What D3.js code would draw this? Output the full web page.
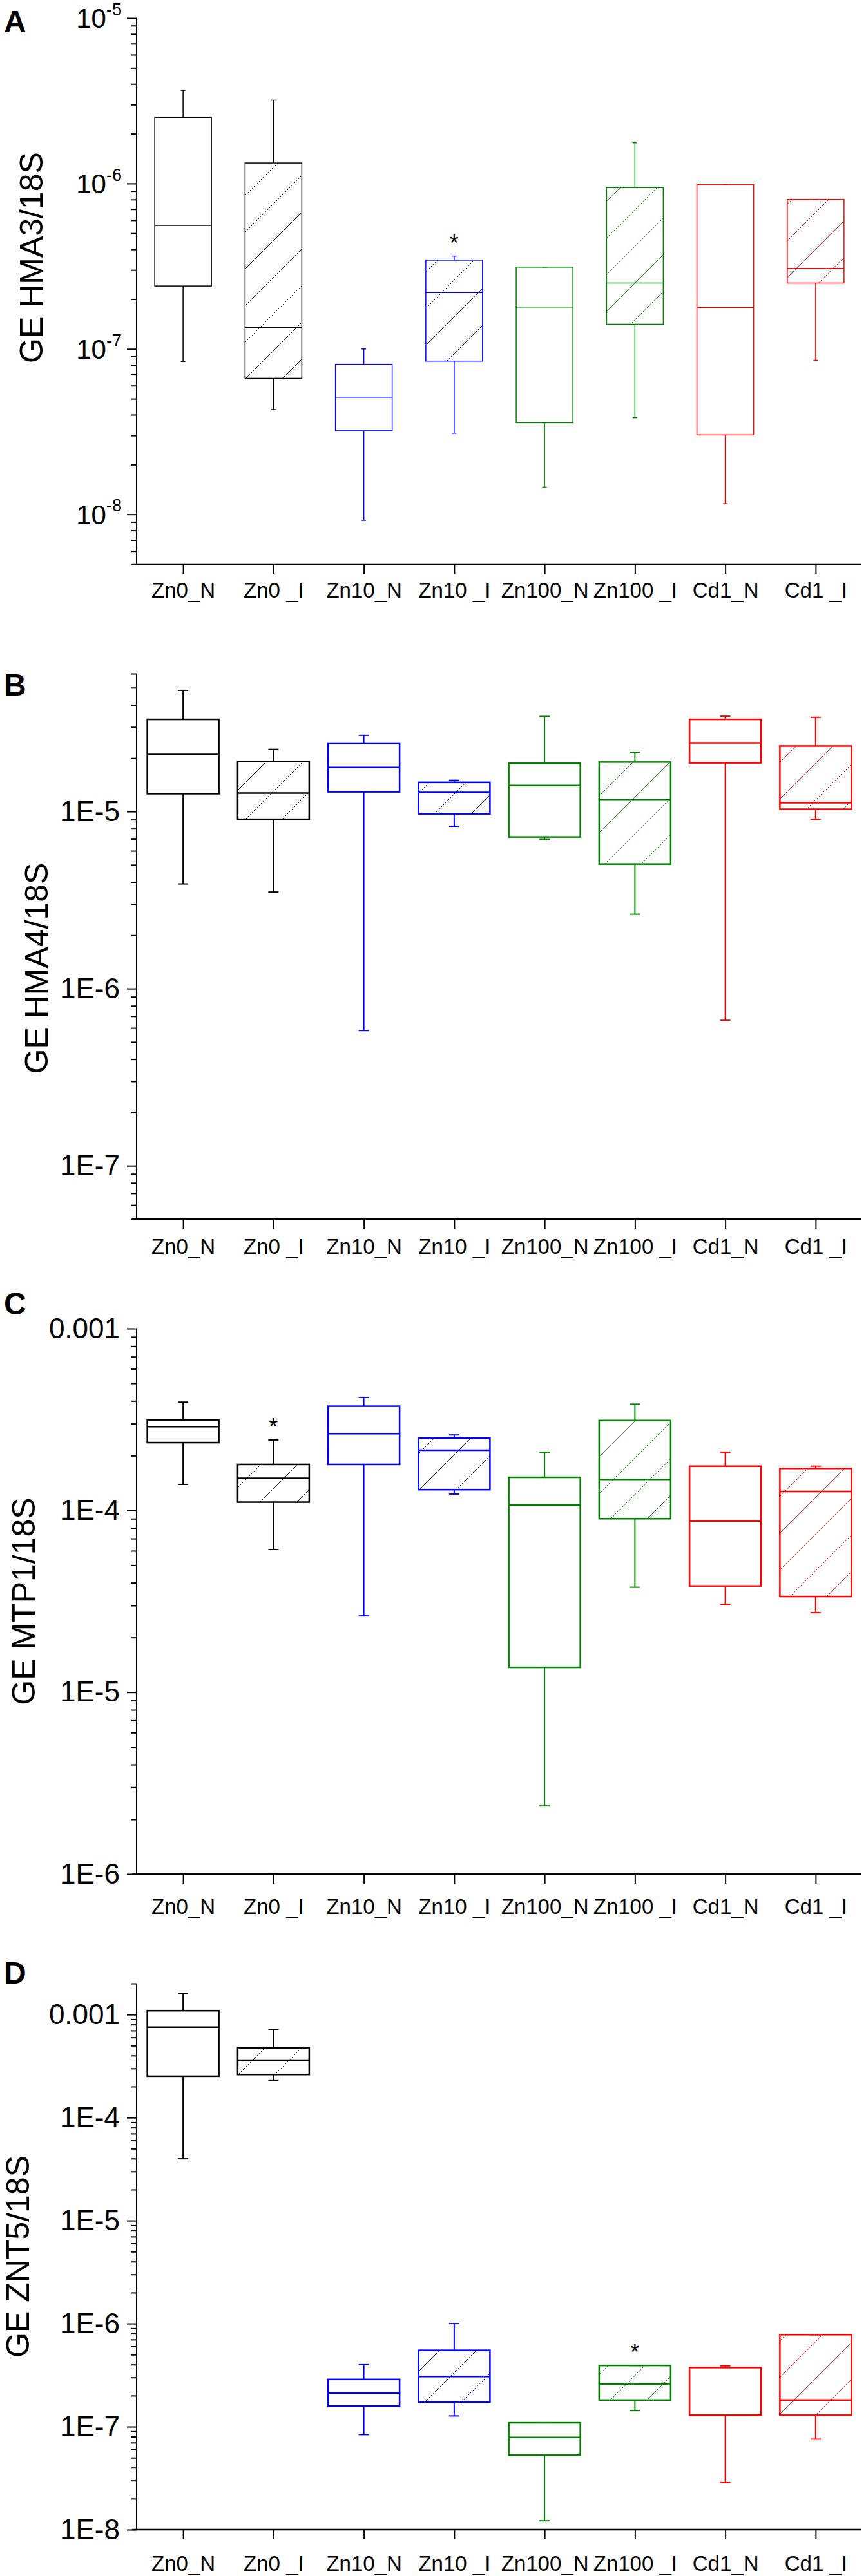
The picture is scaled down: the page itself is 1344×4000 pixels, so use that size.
<!DOCTYPE html>
<html>
<head>
<meta charset="utf-8">
<script src="https://cdn.jsdelivr.net/npm/d3@7"></script>
<style>
  body { margin: 0; background: #fff; }
  svg { display: block; }
  text { font-family: "Liberation Sans", Arial, sans-serif; }
</style>
</head>
<body>
<svg id="chart"></svg>
<script>
// groups on the x axis
var categories = ["Zn0_N", "Zn0 _I", "Zn10_N", "Zn10 _I", "Zn100_N", "Zn100 _I", "Cd1_N", "Cd1 _I"];
var groupColors = ["#000000", "#000000", "#0000ff", "#0000ff", "#008000", "#008000", "#ff0000", "#ff0000"];
var hatched = [false, true, false, true, false, true, false, true];

// [whisker low, q1, median, q3, whisker high]
var hma3 = [
  [8.4e-8, 2.40e-7, 5.58e-7, 2.51e-6, 3.66e-6],
  [4.3e-8, 6.64e-8, 1.35e-7, 1.33e-6, 3.19e-6],
  [9.2e-9, 3.2e-8, 5.11e-8, 8.07e-8, 1.0e-7],
  [3.09e-8, 8.44e-8, 2.19e-7, 3.44e-7, 3.64e-7],
  [1.46e-8, 3.58e-8, 1.79e-7, 3.12e-7, 3.12e-7],
  [3.84e-8, 1.41e-7, 2.50e-7, 9.44e-7, 1.76e-6],
  [1.16e-8, 3.02e-8, 1.78e-7, 9.83e-7, 9.83e-7],
  [8.53e-8, 2.50e-7, 3.07e-7, 8.0e-7, 8.0e-7]
];
var hma4 = [
  [3.9e-6, 1.26e-5, 2.10e-5, 3.31e-5, 4.83e-5],
  [3.51e-6, 9.04e-6, 1.27e-5, 1.91e-5, 2.24e-5],
  [5.8e-7, 1.29e-5, 1.77e-5, 2.43e-5, 2.69e-5],
  [8.25e-6, 9.7e-6, 1.28e-5, 1.46e-5, 1.50e-5],
  [6.95e-6, 7.18e-6, 1.40e-5, 1.87e-5, 3.44e-5],
  [2.63e-6, 5.05e-6, 1.16e-5, 1.90e-5, 2.16e-5],
  [6.63e-7, 1.88e-5, 2.44e-5, 3.31e-5, 3.45e-5],
  [9.04e-6, 1.03e-5, 1.12e-5, 2.34e-5, 3.40e-5]
];
var mtp1 = [
  [1.39e-4, 2.36e-4, 2.89e-4, 3.14e-4, 3.94e-4],
  [6.1e-5, 1.11e-4, 1.50e-4, 1.79e-4, 2.44e-4],
  [2.63e-5, 1.79e-4, 2.64e-4, 3.74e-4, 4.18e-4],
  [1.23e-4, 1.30e-4, 2.14e-4, 2.50e-4, 2.60e-4],
  [2.37e-6, 1.37e-5, 1.07e-4, 1.52e-4, 2.09e-4],
  [3.78e-5, 9.0e-5, 1.48e-4, 3.12e-4, 3.84e-4],
  [3.04e-5, 3.84e-5, 8.74e-5, 1.75e-4, 2.09e-4],
  [2.74e-5, 3.36e-5, 1.27e-4, 1.70e-4, 1.75e-4]
];
var znt5 = [
  [3.98e-5, 2.52e-4, 7.54e-4, 1.09e-3, 1.61e-3],
  [2.28e-4, 2.62e-4, 3.61e-4, 4.76e-4, 7.2e-4],
  [8.37e-8, 1.58e-7, 2.12e-7, 2.87e-7, 3.99e-7],
  [1.27e-7, 1.73e-7, 3.06e-7, 5.5e-7, 1.0e-6],
  [1.22e-8, 5.29e-8, 7.85e-8, 1.09e-7, 1.09e-7],
  [1.43e-7, 1.81e-7, 2.59e-7, 3.92e-7, 3.92e-7],
  [2.86e-8, 1.29e-7, 1.29e-7, 3.74e-7, 3.88e-7],
  [7.56e-8, 1.29e-7, 1.81e-7, 7.8e-7, 7.8e-7]
];

// groups marked with * (index into categories)
var hma3Stars = [3];
var hma4Stars = [];
var mtp1Stars = [1];
var znt5Stars = [5];

var panels = [
  { letter: "A", title: "GE HMA3/18S", data: hma3, stars: hma3Stars, domain: [5e-9, 1e-5],
    top: 28, bottom: 876, fmt: "sup", boxW: 88, boxSW: 1.5, whiskSW: 1.5, capW: 7,
    letterY: 50, titleX: 66, titleDy: -52, xLabelDy: 52 },
  { letter: "B", title: "GE HMA4/18S", data: hma4, stars: hma4Stars, domain: [5e-8, 6e-5],
    top: 1046, bottom: 1893, fmt: "E", boxW: 111, boxSW: 2.5, whiskSW: 2, capW: 16,
    letterY: 1080, titleX: 74, titleDy: 34, xLabelDy: 54 },
  { letter: "C", title: "GE MTP1/18S", data: mtp1, stars: mtp1Stars, domain: [1e-6, 1e-3],
    top: 2063, bottom: 2910, fmt: "E", boxW: 111, boxSW: 2.5, whiskSW: 2, capW: 16,
    letterY: 2041, titleX: 54, titleDy: 0, xLabelDy: 62 },
  { letter: "D", title: "GE ZNT5/18S", data: znt5, stars: znt5Stars, domain: [1e-8, 2e-3],
    top: 3080, bottom: 3928, fmt: "E", boxW: 111, boxSW: 2.5, whiskSW: 2, capW: 16,
    letterY: 3080, titleX: 45, titleDy: 0, xLabelDy: 64 }
];

var width = 1344, height = 4000;
var axisX = 212, axisRight = 1336;

var svg = d3.select("#chart").attr("width", width).attr("height", height);

// hatch patterns, one per colour
var defs = svg.append("defs");
var hatchSize = 57;
Array.from(new Set(groupColors)).forEach(function(c) {
  defs.append("pattern")
    .attr("id", "hatch" + c.slice(1))
    .attr("patternUnits", "userSpaceOnUse")
    .attr("width", hatchSize)
    .attr("height", hatchSize)
    .append("path")
    .attr("d", "M0," + hatchSize + "L" + hatchSize + ",0M-10,10L10,-10M" + (hatchSize - 10) + "," + (hatchSize + 10) + "L" + (hatchSize + 10) + "," + (hatchSize - 10))
    .style("stroke", c)
    .style("stroke-width", 1)
    .style("opacity", 0.85);
});

var x = d3.scalePoint().domain(categories).range([214, axisRight]).padding(0.5);

function isMajor(v) {
  var e = Math.log10(v);
  return Math.abs(e - Math.round(e)) < 1e-6;
}

panels.forEach(function(p) {
  var g = svg.append("g");
  var y = d3.scaleLog().domain(p.domain).range([p.bottom, p.top]);

  var allTicks = y.ticks();
  var major = allTicks.filter(isMajor);
  var minor = allTicks.filter(function(v) { return !isMajor(v); });

  // minor ticks
  g.append("g")
    .attr("transform", "translate(" + axisX + ",0)")
    .call(d3.axisLeft(y).tickValues(minor).tickSize(8).tickSizeOuter(0).tickFormat(""))
    .call(function(s) { s.select(".domain").remove(); })
    .selectAll("line").style("stroke-width", 2);

  // major ticks + labels
  var yAxis = g.append("g")
    .attr("transform", "translate(" + axisX + ",0)")
    .call(d3.axisLeft(y).tickValues(major).tickSize(15).tickSizeOuter(0).tickPadding(11)
      .tickFormat(function(v) {
        var e = Math.round(Math.log10(v));
        if (p.fmt === "sup") return "10";
        return e >= -3 ? String(+v.toPrecision(3)) : "1E" + e;
      }));
  yAxis.select(".domain").remove();
  yAxis.selectAll("line").style("stroke-width", 2);
  yAxis.selectAll("text")
    .style("font-size", p.fmt === "sup" ? "42px" : "44px")
    .style("font-family", "'Liberation Sans', Arial, sans-serif")
    .attr("fill", "#000");

  if (p.fmt === "sup") {
    yAxis.selectAll("text").each(function(v) {
      var e = Math.round(Math.log10(v));
      var t = d3.select(this).text(null).attr("dy", "0.35em").attr("x", -23);
      t.append("tspan").text("10");
      t.append("tspan").text(String(e))
        .style("font-size", "27px")
        .attr("dy", "-0.72em");
    });
  }

  // axis lines
  g.append("line")
    .attr("x1", axisX).attr("x2", axisX)
    .attr("y1", p.top).attr("y2", p.bottom + 1)
    .style("stroke", "#000").style("stroke-width", 2);
  g.append("line")
    .attr("x1", axisX - 7).attr("x2", axisRight)
    .attr("y1", p.bottom).attr("y2", p.bottom)
    .style("stroke", "#000").style("stroke-width", 2.5);

  // x axis ticks and labels
  var xAxis = g.append("g")
    .attr("transform", "translate(0," + p.bottom + ")")
    .call(d3.axisBottom(x).tickSize(15).tickSizeOuter(0));
  xAxis.select(".domain").remove();
  xAxis.selectAll("line").style("stroke-width", 2);
  xAxis.selectAll("text")
    .attr("y", p.xLabelDy).attr("dy", 0)
    .style("font-size", "33px")
    .style("font-family", "'Liberation Sans', Arial, sans-serif")
    .attr("fill", "#000");

  // boxes
  var boxes = g.selectAll(".box").data(p.data).enter().append("g").attr("class", "box");

  boxes.each(function(d, i) {
    var b = d3.select(this);
    var cx = x(categories[i]);
    var col = groupColors[i];
    var x0 = cx - p.boxW / 2;

    // whiskers
    b.append("line")
      .attr("x1", cx).attr("x2", cx).attr("y1", y(d[3])).attr("y2", y(d[4]))
      .style("stroke", col).style("stroke-width", p.whiskSW);
    b.append("line")
      .attr("x1", cx).attr("x2", cx).attr("y1", y(d[1])).attr("y2", y(d[0]))
      .style("stroke", col).style("stroke-width", p.whiskSW);
    [d[0], d[4]].forEach(function(v) {
      b.append("line")
        .attr("x1", cx - p.capW / 2).attr("x2", cx + p.capW / 2)
        .attr("y1", y(v)).attr("y2", y(v))
        .style("stroke", col).style("stroke-width", p.whiskSW);
    });

    if (hatched[i]) {
      b.append("rect")
        .attr("x", x0).attr("y", y(d[3]))
        .attr("width", p.boxW).attr("height", y(d[1]) - y(d[3]))
        .style("fill", "url(#hatch" + col.slice(1) + ")")
        .style("stroke", "none");
    }
    b.append("rect")
      .attr("x", x0).attr("y", y(d[3]))
      .attr("width", p.boxW).attr("height", y(d[1]) - y(d[3]))
      .style("fill", "none")
      .style("stroke", col).style("stroke-width", p.boxSW);
    b.append("line")
      .attr("x1", x0).attr("x2", x0 + p.boxW)
      .attr("y1", y(d[2])).attr("y2", y(d[2]))
      .style("stroke", col).style("stroke-width", p.boxSW);
  });

  // significance stars
  p.stars.forEach(function(i) {
    g.append("text")
      .attr("x", x(categories[i]))
      .attr("y", y(p.data[i][4]) - 8)
      .attr("text-anchor", "middle")
      .style("font-size", "36px")
      .text("*");
  });

  // panel letter
  g.append("text")
    .attr("x", 6).attr("y", p.letterY)
    .style("font-size", "48px").style("font-weight", "bold")
    .text(p.letter);

  // y title
  g.append("text")
    .attr("transform", "translate(" + p.titleX + "," + ((p.top + p.bottom) / 2 + p.titleDy) + ") rotate(-90)")
    .attr("text-anchor", "middle")
    .style("font-size", "50px")
    .text(p.title);
});
</script>
</body>
</html>
